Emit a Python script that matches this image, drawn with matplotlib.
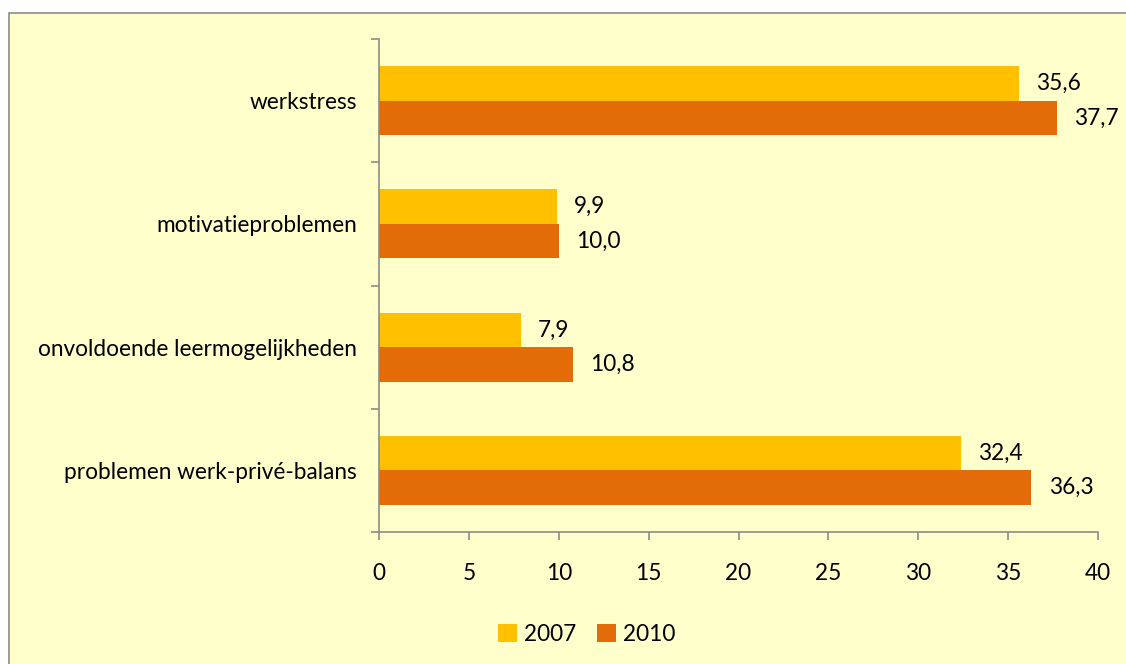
import matplotlib.pyplot as plt
import matplotlib.patches as patches
import numpy as np

categories = ['werkstress', 'motivatieproblemen', 'onvoldoende leermogelijkheden',
              'problemen werk-privé-balans']
values_2007 = [35.6, 9.9, 7.9, 32.4]
values_2010 = [37.7, 10.0, 10.8, 36.3]
series_names = ['2007', '2010']
colors = ['#FFC000', '#E36C09']

plt.rcParams['font.family'] = ['Lato', 'DejaVu Sans']
fs = 16.3

fig = plt.figure(figsize=(11.26, 6.64), dpi=100)
fig.patch.set_facecolor('white')
# achtergrondkader van de grafiek
frame = patches.Rectangle((9 / 1126, -0.05), 1.2, 1 - 13 / 664 + 0.05,
                          transform=fig.transFigure, facecolor='#FFFFCC',
                          edgecolor='#8C8C8C', linewidth=1.2, zorder=-10)
fig.patches.append(frame)

ax = fig.add_axes([379 / 1126, 1 - 532 / 664, (1098 - 379) / 1126, (532 - 39) / 664])
ax.set_facecolor('none')
ax.set_zorder(5)

n = len(categories)
y = np.arange(n)[::-1]
h = 0.28
b1 = ax.barh(y + h / 2, values_2007, height=h, color=colors[0], label=series_names[0])
b2 = ax.barh(y - h / 2, values_2010, height=h, color=colors[1], label=series_names[1])

for bars, vals in [(b1, values_2007), (b2, values_2010)]:
    for bar, v in zip(bars, vals):
        ax.text(v + 0.95, bar.get_y() + bar.get_height() / 2,
                f'{v:.1f}'.replace('.', ','), va='center', ha='left', fontsize=fs)

ax.set_xlim(0, 40)
ax.set_ylim(-0.5, n - 0.5)
ax.set_xticks(range(0, 41, 5))
ax.set_yticks(y)
ax.set_yticklabels(categories)
ax.set_yticks(np.arange(-0.5, n, 1.0), minor=True)
ax.tick_params(axis='y', which='major', length=0, pad=16, labelsize=fs)
ax.tick_params(axis='y', which='minor', length=6, color='#8C8C8C', width=1.2)
ax.tick_params(axis='x', length=6, color='#8C8C8C', width=1.2, pad=16, labelsize=fs)
for s in ['top', 'right']:
    ax.spines[s].set_visible(False)
for s in ['left', 'bottom']:
    ax.spines[s].set_color('#8C8C8C')
    ax.spines[s].set_linewidth(1.2)

fig.legend(handles=[b1, b2], labels=series_names, loc='center',
           bbox_to_anchor=(0.521, 0.044), ncol=2, frameon=False, fontsize=fs,
           handlelength=0.85, handleheight=0.85, handletextpad=0.3, columnspacing=0.9)

fig.savefig('out.png', dpi=100, facecolor=fig.get_facecolor())
